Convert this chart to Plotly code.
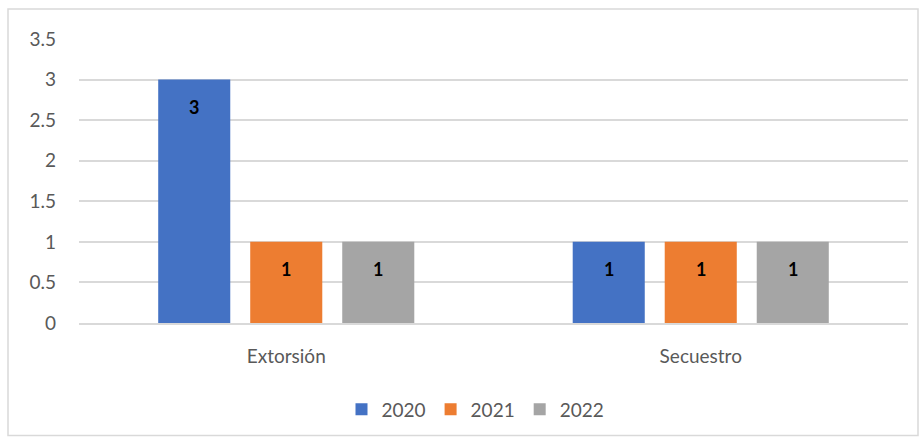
import plotly.graph_objects as go

categories = ["Extorsión", "Secuestro"]
years = ["2020", "2021", "2022"]
values_2020 = [3, 1]
values_2021 = [1, 1]
values_2022 = [1, 1]
colors = ["#4472C4", "#ED7D31", "#A5A5A5"]
y_ticks = [0, 0.5, 1, 1.5, 2, 2.5, 3, 3.5]

series = [values_2020, values_2021, values_2022]
FONT = "Lato"
FS = 19

fig = go.Figure()
for name, vals, col in zip(years, series, colors):
    fig.add_trace(go.Bar(
        x=categories, y=vals, name=name,
        marker=dict(color=col, line=dict(width=0)),
        offsetgroup=name, hoverinfo="skip",
    ))

# Data labels like Excel (inside end, bold black)
W = 829.0
cat_w = W / len(categories)
slot = 92.0
annotations = []
for i, vals in enumerate(series):
    for j, v in enumerate(vals):
        annotations.append(dict(
            x=j + (i - 1) * slot / cat_w, y=v, xref="x", yref="y",
            text=f"<b>{v}</b>", showarrow=False, yshift=-27,
            font=dict(family=FONT, size=18, color="#000000"),
        ))

fig.update_layout(
    width=924, height=439,
    margin=dict(l=79, r=16, t=39, b=115),
    paper_bgcolor="white", plot_bgcolor="white",
    barmode="group", bargap=0.334, bargroupgap=0.217,
    font=dict(family=FONT, size=FS, color="#595959"),
    showlegend=True,
    legend=dict(orientation="h", x=0.5 - 18 / W, xanchor="center", y=-0.30, yanchor="middle",
                font=dict(family=FONT, size=FS, color="#595959"),
                itemwidth=30, traceorder="normal"),
    annotations=annotations,
    shapes=[dict(type="rect", xref="paper", yref="paper",
                 x0=(8 - 79) / W, x1=(918 - 79) / W,
                 y0=(324 - 437) / 285.0, y1=(324 - 9) / 285.0,
                 line=dict(color="#D9D9D9", width=1.5), fillcolor="rgba(0,0,0,0)", layer="below")],
)
fig.update_yaxes(range=[0, 3.5], tickvals=y_ticks, ticktext=[f"{t:g}" for t in y_ticks],
                 showgrid=True, gridcolor="#D9D9D9", gridwidth=1.5, zeroline=False,
                 showline=False, ticks="", ticklabelstandoff=22,
                 tickfont=dict(family=FONT, size=FS, color="#595959"))
fig.update_xaxes(range=[-0.5, 1.5], showgrid=False, zeroline=False,
                 showline=True, linecolor="#D9D9D9", linewidth=1.5, ticks="",
                 ticklabelstandoff=15,
                 tickfont=dict(family=FONT, size=FS, color="#595959"))

fig.write_html("out.html", config={"displayModeBar": False},
               post_script="document.body.style.margin='0px';")
